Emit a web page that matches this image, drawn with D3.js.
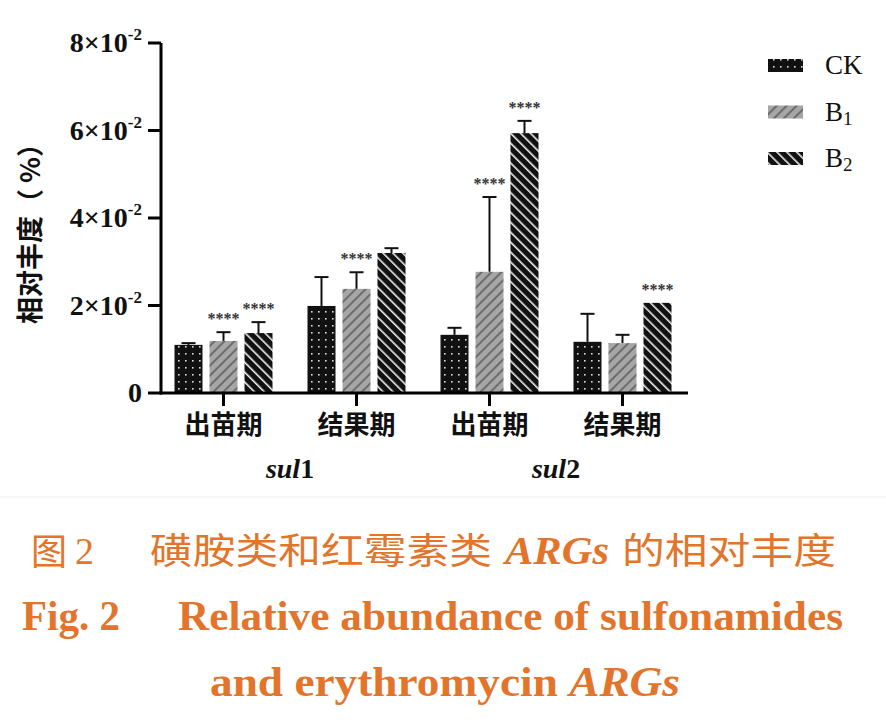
<!DOCTYPE html>
<html><head><meta charset="utf-8">
<script src="https://cdn.jsdelivr.net/npm/d3@7/dist/d3.min.js"></script>
<style>body{margin:0;background:#fff}svg{display:block}</style>
</head><body>
<svg id="c" width="886" height="724"></svg>
<script>
const periods = ["出苗期","结果期","出苗期","结果期"];
const genes = ["sul1","sul2"];
const seriesNames = ["CK","B1","B2"];
const ckValues = [1.10, 1.99, 1.33, 1.17];
const b1Values = [1.19, 2.38, 2.77, 1.14];
const b2Values = [1.37, 3.20, 5.94, 2.06];
const ckErr = [1.14, 2.65, 1.49, 1.81];
const b1Err = [1.39, 2.76, 4.48, 1.33];
const b2Err = [1.62, 3.31, 6.22, 2.06];
const ckSig = [false,false,false,false];
const b1Sig = [true,true,true,false];
const b2Sig = [true,false,true,true];
const yTicks = [0,2,4,6,8];

const svg = d3.select("#c");
const defs = svg.append("defs");
const pCK = defs.append("pattern").attr("id","pCK").attr("patternUnits","userSpaceOnUse").attr("width",7).attr("height",7);
pCK.append("rect").attr("width",7).attr("height",7).attr("fill","#111");
pCK.append("rect").attr("x",3).attr("y",3).attr("width",1.6).attr("height",1.6).attr("fill","#ddd");
const pB1 = defs.append("pattern").attr("id","pB1").attr("patternUnits","userSpaceOnUse").attr("width",7).attr("height",7).attr("patternTransform","rotate(45)");
pB1.append("rect").attr("width",7).attr("height",7).attr("fill","#a6a6a6");
pB1.append("rect").attr("width",2).attr("height",7).attr("fill","#6c6c6c");
const pB2 = defs.append("pattern").attr("id","pB2").attr("patternUnits","userSpaceOnUse").attr("width",7).attr("height",7).attr("patternTransform","rotate(-45)");
pB2.append("rect").attr("width",7).attr("height",7).attr("fill","#111");
pB2.append("rect").attr("width",1.6).attr("height",7).attr("fill","#eee");
const fills = {CK:"url(#pCK)",B1:"url(#pB1)",B2:"url(#pB2)"};

const x0 = 161, x1 = 688, yBase = 393, yTop = 43;
const y = d3.scaleLinear().domain([0,8]).range([yBase,yTop]);
const xg = d3.scaleBand().domain(d3.range(4)).range([157,689]);
const xs = d3.scaleBand().domain(seriesNames).range([0,xg.bandwidth()]).paddingInner(0.2).paddingOuter(0.5);

const data = [];
const vals = {CK:ckValues,B1:b1Values,B2:b2Values};
const errs = {CK:ckErr,B1:b1Err,B2:b2Err};
const sigs = {CK:ckSig,B1:b1Sig,B2:b2Sig};
d3.range(4).forEach(g=>seriesNames.forEach(s=>data.push({g,s,v:vals[s][g],e:errs[s][g],sig:sigs[s][g]})));

const gBars = svg.append("g");
data.forEach(d=>{
  const cx = xg(d.g)+xs(d.s)+xs.bandwidth()/2;
  if (d.e > d.v + 0.02){
    gBars.append("line").attr("x1",cx).attr("x2",cx).attr("y1",y(d.v)).attr("y2",y(d.e)).attr("stroke","#111").attr("stroke-width",2);
    gBars.append("line").attr("x1",cx-7).attr("x2",cx+7).attr("y1",y(d.e)).attr("y2",y(d.e)).attr("stroke","#111").attr("stroke-width",2);
  }
  gBars.append("rect").attr("x",xg(d.g)+xs(d.s)).attr("width",xs.bandwidth())
    .attr("y",y(d.v)).attr("height",yBase-y(d.v)).attr("fill",fills[d.s]);
  if (d.sig){
    gBars.append("text").attr("x",cx).attr("y",y(d.e)-8).attr("text-anchor","middle")
      .attr("font-family","Liberation Serif").attr("font-size",16).attr("font-weight","bold").attr("fill","#333").text("****");
  }
});

// Y axis
const ax = svg.append("g");
ax.append("line").attr("x1",x0).attr("x2",x0).attr("y1",yTop).attr("y2",yBase+1.5).attr("stroke","#000").attr("stroke-width",3);
yTicks.forEach(t=>{
  ax.append("line").attr("x1",x0-13).attr("x2",x0).attr("y1",y(t)).attr("y2",y(t)).attr("stroke","#000").attr("stroke-width",3);
  const tx = ax.append("text").attr("x",x0-19).attr("y",y(t)+9).attr("text-anchor","end")
    .attr("font-family","Liberation Serif").attr("font-weight","bold").attr("font-size",28).attr("fill","#111");
  if (t===0) tx.text("0");
  else { tx.append("tspan").text(t+"×10"); tx.append("tspan").attr("font-size",17).attr("dy",-12).text("-2"); }
});
// X axis
ax.append("line").attr("x1",x0-1.5).attr("x2",x1).attr("y1",yBase).attr("y2",yBase).attr("stroke","#000").attr("stroke-width",3);
d3.range(4).forEach(g=>{
  const cx = xg(g)+xg.bandwidth()/2;
  ax.append("line").attr("x1",cx).attr("x2",cx).attr("y1",yBase).attr("y2",yBase+13).attr("stroke","#000").attr("stroke-width",3);
  ax.append("text").attr("x",cx).attr("y",434).attr("text-anchor","middle")
    .attr("font-family","Noto Sans CJK SC").attr("font-weight","bold").attr("font-size",26).attr("fill","#111").text(periods[g]);
});
genes.forEach((gn,i)=>{
  const cx = (xg(i*2)+xg(i*2+1)+xg.bandwidth())/2;
  const t = ax.append("text").attr("x",cx).attr("y",478).attr("text-anchor","middle")
    .attr("font-family","Liberation Serif").attr("font-weight","bold").attr("font-size",28).attr("fill","#111");
  t.append("tspan").attr("font-style","italic").text(gn.slice(0,3));
  t.append("tspan").text(gn.slice(3));
});
// Y title
svg.append("text").attr("transform","translate(40,227) rotate(-90)").attr("text-anchor","middle")
  .attr("font-family","Noto Sans CJK SC").attr("font-weight","bold").attr("font-size",27).attr("fill","#111").text("相对丰度（ %）");

// Legend
const lg = svg.append("g");
const legLabels = [["CK",""],["B","1"],["B","2"]];
seriesNames.forEach((s,i)=>{
  const cy = 65 + i*46.5;
  lg.append("rect").attr("x",768).attr("y",cy-6).attr("width",35).attr("height",13).attr("fill",fills[s]);
  const t = lg.append("text").attr("x",825).attr("y",cy+9).attr("font-family","Liberation Serif").attr("font-size",27).attr("fill","#111");
  t.append("tspan").text(legLabels[i][0]);
  if (legLabels[i][1]) t.append("tspan").attr("font-size",19).attr("dy",4).text(legLabels[i][1]);
});

svg.append("line").attr("x1",0).attr("x2",886).attr("y1",497).attr("y2",497).attr("stroke","#eee").attr("stroke-width",1);

// Caption
const orange = "#E2752B";
const cap = svg.append("g").attr("fill",orange);
cap.append("text").attr("x",31).attr("y",565).attr("font-family","Noto Sans CJK SC").attr("font-size",36).text("图");
cap.append("text").attr("x",75).attr("y",564).attr("font-family","Liberation Serif").attr("font-size",38).text("2");
cap.append("text").attr("x",150).attr("y",564).attr("font-family","Noto Sans CJK SC").attr("font-size",36)
  .attr("textLength",342).attr("lengthAdjust","spacingAndGlyphs").text("磺胺类和红霉素类");
cap.append("text").attr("x",505).attr("y",564).attr("font-family","Liberation Serif").attr("font-style","italic").attr("font-weight","bold").attr("font-size",40)
  .attr("textLength",104).attr("lengthAdjust","spacingAndGlyphs").text("ARGs");
cap.append("text").attr("x",622).attr("y",564).attr("font-family","Noto Sans CJK SC").attr("font-size",36)
  .attr("textLength",214).attr("lengthAdjust","spacingAndGlyphs").text("的相对丰度");
cap.append("text").attr("x",22).attr("y",630).attr("font-family","Liberation Serif").attr("font-weight","bold").attr("font-size",42)
  .attr("textLength",98).attr("lengthAdjust","spacingAndGlyphs").text("Fig. 2");
cap.append("text").attr("x",178).attr("y",630).attr("font-family","Liberation Serif").attr("font-weight","bold").attr("font-size",42)
  .attr("textLength",665).attr("lengthAdjust","spacingAndGlyphs").text("Relative abundance of sulfonamides");
const c3 = cap.append("text").attr("x",210).attr("y",696).attr("font-family","Liberation Serif").attr("font-weight","bold").attr("font-size",42)
  .attr("textLength",470).attr("lengthAdjust","spacingAndGlyphs");
c3.append("tspan").text("and erythromycin ");
c3.append("tspan").attr("font-style","italic").text("ARGs");
</script>
</body></html>
